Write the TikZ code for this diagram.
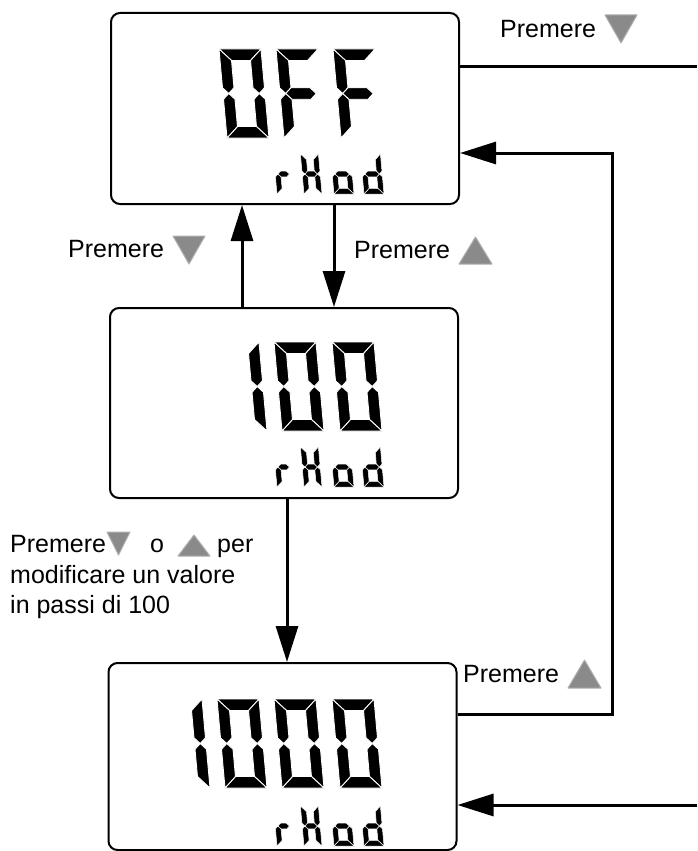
\documentclass[tikz,border=0pt]{standalone}
\usepackage{fontspec}
\setmainfont{Liberation Sans}
\usetikzlibrary{arrows.meta}
\definecolor{trigray}{RGB}{138,138,138}
\definecolor{triedge}{RGB}{175,175,175}

\newcommand\segA{\fill[segfill] (0,\H) -- (\W,\H) -- ({\W-\T},{\H-\T}) -- (\T,{\H-\T}) -- cycle;}
\newcommand\segB{\fill[segfill] (\W,\H) -- (\W,{\M+\T/2}) -- ({\W-\T/2},\M) -- ({\W-\T},{\M+\T/2}) -- ({\W-\T},{\H-\T}) -- cycle;}
\newcommand\segC{\fill[segfill] (\W,0) -- (\W,{\M-\T/2}) -- ({\W-\T/2},\M) -- ({\W-\T},{\M-\T/2}) -- ({\W-\T},\T) -- cycle;}
\newcommand\segD{\fill[segfill] (0,0) -- (\W,0) -- ({\W-\T},\T) -- (\T,\T) -- cycle;}
\newcommand\segE{\fill[segfill] (0,0) -- (0,{\M-\T/2}) -- ({\T/2},\M) -- (\T,{\M-\T/2}) -- (\T,\T) -- cycle;}
\newcommand\segF{\fill[segfill] (0,\H) -- (0,{\M+\T/2}) -- ({\T/2},\M) -- (\T,{\M+\T/2}) -- (\T,{\H-\T}) -- cycle;}
\newcommand\segG{\fill[segfill] ({\T/2},\M) -- (\T,{\M+\T/2}) -- ({\W-\T},{\M+\T/2}) -- ({\W-\T/2},\M) -- ({\W-\T},{\M-\T/2}) -- (\T,{\M-\T/2}) -- cycle;}

\newcommand\lcdchar[7]{%
  \begin{scope}[shift={(#1,#2)},yscale=-1,xslant=0.09]
    \def\W{#3}\def\H{#4}\def\T{#5}\pgfmathsetmacro\M{#4/2}%
    \tikzset{segfill/.style={fill=black,draw=white,line width=#6}}%
    \foreach \s in {#7}{\csname seg\s\endcsname}%
  \end{scope}}
\newcommand\bigdig[3]{\lcdchar{#1}{#2}{42}{89}{11.5}{0.9pt}{#3}}
\newcommand\smalldig[4]{\lcdchar{#1}{#2}{#3}{40}{5.6}{0.5pt}{#4}}
\newcommand\rhod[1]{%
  \smalldig{277}{#1}{17}{E,G}%
  \smalldig{304}{#1}{18}{B,C,E,F,G}%
  \smalldig{334}{#1}{20}{C,D,E,G}%
  \smalldig{364}{#1}{20}{B,C,D,E,G}}

\begin{document}
\begin{tikzpicture}[x=1pt,y=-1pt,
  lcdbox/.style={draw=black,line width=2pt,rounded corners=9pt,minimum width=348pt,inner sep=0pt},
  conn/.style={line width=3pt,-{Triangle[length=36pt,width=22pt]}},
  plain/.style={line width=3pt},
  lbl/.style={anchor=base west,inner sep=0pt,font=\fontsize{25}{30}\selectfont},
  tri/.style={fill=trigray,draw=triedge,line width=1pt,line join=round}]
\useasboundingbox (0,0) rectangle (697,851);

% display boxes
\node[lcdbox,minimum height=191pt] (box1) at (285,108.5) {};
\node[lcdbox,minimum height=190pt] (box2) at (284,403) {};
\node[lcdbox,minimum height=187pt] (box3) at (282.5,756.5) {};

% box 1: OFF / rHod
\bigdig{227}{138}{A,B,C,D,E,F}
\bigdig{284}{138}{A,E,F,G}
\bigdig{341}{138}{A,E,F,G}
\rhod{194}
% box 2: 100 / rHod
\bigdig{225}{431}{B,C}
\bigdig{282}{431}{A,B,C,D,E,F}
\bigdig{340}{431}{A,B,C,D,E,F}
\rhod{487}
% box 3: 1000 / rHod
\bigdig{168}{788}{B,C}
\bigdig{225}{788}{A,B,C,D,E,F}
\bigdig{282}{788}{A,B,C,D,E,F}
\bigdig{340}{788}{A,B,C,D,E,F}
\rhod{846}

% helper coordinates
\coordinate (e1) at (697,67);
\coordinate (e2) at (697,805);
\coordinate (r1) at (612,714);
\coordinate (r2) at (612,153);
\coordinate (v1) at (242,0);
\coordinate (v2) at (334,0);
\coordinate (v3) at (287,0);

% connectors
\draw[plain] (box1.east |- e1) -- (e1);
\draw[conn] (box3.east |- r1) -- (r1) -- (r2) -- (box1.east |- r2);
\draw[conn] (e2) -- (box3.east |- e2);
\draw[conn] (box2.north -| v1) -- (box1.south -| v1);
\draw[conn] (box1.south -| v2) -- (box2.north -| v2);
\draw[conn] (box2.south -| v3) -- (box3.north -| v3);

% labels
\node[lbl] (l1) at (500,38) {Premere};
\node[lbl] (l2) at (68,257) {Premere};
\node[lbl] (l3) at (354,258) {Premere};
\node[lbl] (l4) at (463,682) {Premere};
\node[lbl] (l5a) at (10,552) {Premere};
\node[lbl] (l5b) at (150,552) {o};
\node[lbl] (l5c) at (217,552) {per};
\node[lbl] (l5d) at (10,583) {modificare un valore};
\node[lbl] (l5e) at (10,613) {in passi di 100};

% key triangles
\filldraw[tri] (605,15) -- (637,15) -- (621,43) -- cycle;
\filldraw[tri] (173,236) -- (205,236) -- (189,264) -- cycle;
\filldraw[tri] (459,264) -- (492,264) -- (475.5,237) -- cycle;
\filldraw[tri] (568,688) -- (601,688) -- (584.5,660) -- cycle;
\filldraw[tri] (107,532) -- (130,532) -- (118.5,555) -- cycle;
\filldraw[tri] (178,556) -- (210,556) -- (194,535) -- cycle;
\end{tikzpicture}
\end{document}
